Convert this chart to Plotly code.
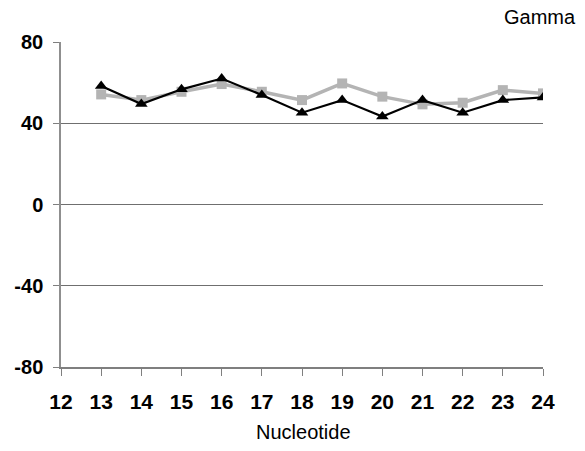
import plotly.graph_objects as go

nucleotide = list(range(13, 25))
series_gray = [54.2, 51.4, 55.5, 59.3, 55.5, 51.4, 59.6, 53.1, 49.3, 50.1, 56.3, 54.7]
series_black = [58.3, 49.5, 56.7, 62.0, 53.9, 45.2, 51.4, 43.3, 51.4, 45.2, 51.4, 52.7]
x_ticks = list(range(12, 25))
y_ticks = [-80, -40, 0, 40, 80]
y_tick_text = ["-80", "-40", "0", "40", "80"]

fig = go.Figure()
fig.add_trace(go.Scatter(
    x=nucleotide, y=series_gray, mode="lines+markers",
    line=dict(color="#b4b4b4", width=3.5),
    marker=dict(symbol="square", size=10, color="#b4b4b4"),
    showlegend=False,
))
fig.add_trace(go.Scatter(
    x=nucleotide, y=series_black, mode="lines+markers",
    line=dict(color="#000000", width=2.2),
    marker=dict(symbol="triangle-up", size=11, color="#000000"),
    showlegend=False,
))

font_family = "Liberation Sans, Arial, sans-serif"
fig.update_layout(
    width=585, height=451,
    margin=dict(l=61, r=42, t=42, b=84),
    paper_bgcolor="white", plot_bgcolor="white",
    font=dict(family=font_family, color="black"),
    xaxis=dict(
        range=[12, 24], tickvals=x_ticks, ticktext=[str(v) for v in x_ticks],
        showgrid=False, zeroline=False,
        showline=True, linecolor="#7f7f7f", linewidth=1.5,
        ticks="outside", ticklen=7, tickcolor="#7f7f7f",
        tickfont=dict(size=21, family=font_family, weight="bold"),
        ticklabelstandoff=8,
    ),
    yaxis=dict(
        range=[-80, 80], tickvals=y_ticks, ticktext=y_tick_text,
        showgrid=True, gridcolor="#6f6f6f", gridwidth=1.2,
        zeroline=False,
        showline=True, linecolor="#8f8f8f", linewidth=1.5,
        ticks="outside", ticklen=6, tickcolor="#7f7f7f",
        tickfont=dict(size=20, family=font_family, weight="bold"),
        ticklabelstandoff=6,
    ),
    annotations=[
        dict(
            text="Gamma", xref="paper", yref="paper", x=1.0705, y=1.077,
            xanchor="right", yanchor="middle", showarrow=False,
            borderpad=0, font=dict(size=20),
        ),
        dict(
            text="Nucleotide", xref="paper", yref="paper", x=0.504, y=-0.2,
            xanchor="center", yanchor="middle", showarrow=False,
            borderpad=0, font=dict(size=20),
        ),
    ],
)

fig.write_html("out.html")
